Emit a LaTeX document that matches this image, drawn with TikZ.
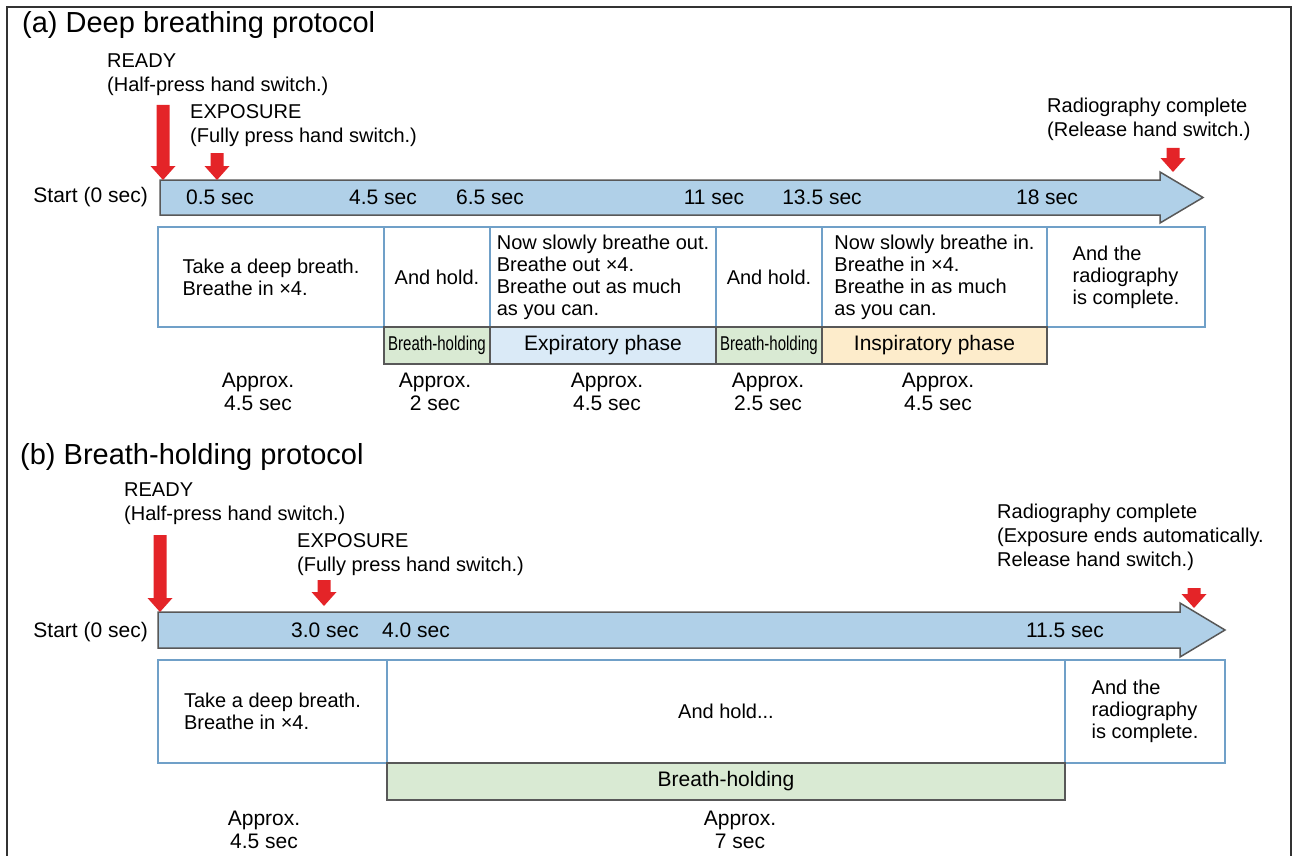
\documentclass[tikz,border=0pt]{standalone}
\usepackage{fontspec}
\setmainfont{Liberation Sans}
\usetikzlibrary{positioning}
\definecolor{barblue}{RGB}{176,208,232}
\definecolor{boxedge}{RGB}{112,160,200}
\definecolor{edgegray}{RGB}{88,88,88}
\definecolor{holdgreen}{RGB}{217,234,211}
\definecolor{expblue}{RGB}{218,234,247}
\definecolor{insyellow}{RGB}{253,236,203}
\definecolor{cuered}{RGB}{228,36,40}
% red cue arrow: x, top y, tip y
\newcommand{\cuearrow}[3]{%
  \fill[cuered] (#1-6.5,#2) -- (#1+6.5,#2) -- (#1+6.5,#3-14) -- (#1+12.5,#3-14)
    -- (#1,#3) -- (#1-12.5,#3-14) -- (#1-6.5,#3-14) -- cycle;}
% time bar: left x, head base x, tip x, top y, bottom y, head overhang
\newcommand{\timebar}[6]{%
  \draw[fill=barblue,draw=edgegray,line width=1.5pt,line join=miter]
    (#1,#4) -- (#2,#4) -- (#2,#4-#6) -- (#3,{(#4+#5)/2}) -- (#2,#5+#6)
    -- (#2,#5) -- (#1,#5) -- cycle;}

\begin{document}
\begin{tikzpicture}[x=1pt,y=-1pt,font=\fontsize{20}{22}\selectfont,
    msg/.style={rectangle,draw=boxedge,line width=1.5pt,fill=white,align=left,inner sep=0pt},
    phase/.style={rectangle,draw=edgegray,line width=1.5pt,inner sep=0pt,minimum height=37},
    cue/.style={anchor=west,align=left,inner sep=0pt,font=\fontsize{20}{24}\selectfont},
    tick/.style={inner sep=0pt,font=\fontsize{21}{24}\selectfont},
    dur/.style={align=center,inner sep=0pt,font=\fontsize{21}{23}\selectfont},
    head/.style={anchor=west,inner sep=0pt,font=\fontsize{29}{32}\selectfont}]
  \useasboundingbox (0,0) rectangle (1298,856);
  \draw[line width=2pt,black!80] (7,860) -- (7,7) -- (1291,7) -- (1291,860);

  % (a) deep breathing
  \node[head] (ta) at (22,25) {(a) Deep breathing protocol};
  \node[cue] (ready-a) at (107,75) {READY\\(Half-press hand switch.)};
  \node[cue] (expo-a) at (190,125.5) {EXPOSURE\\(Fully press hand switch.)};
  \node[cue] (done-a) at (1047,119) {Radiography complete\\(Release hand switch.)};
  \timebar{160}{1160}{1203}{180}{215}{8}
  \cuearrow{163}{105}{180}
  \cuearrow{217}{153}{180}
  \cuearrow{1173}{148}{172}
  \node[tick,anchor=east] (start-a) at (148,197.5) {Start (0 sec)};
  \node[tick] (s05) at (220,197.5) {0.5 sec};
  \node[tick] (s45) at (383,197.5) {4.5 sec};
  \node[tick] (s65) at (490,197.5) {6.5 sec};
  \node[tick] (s11) at (714,197.5) {11 sec};
  \node[tick] (s135) at (822,197.5) {13.5 sec};
  \node[tick] (s18) at (1047,197.5) {18 sec};

  \node[msg,minimum width=226,minimum height=100] (a1) at (271,277) {Take a deep breath.\\Breathe in ×4.};
  \node[msg,minimum width=106,minimum height=100] (a2) at (437,277) {And hold.};
  \node[msg,minimum width=226,minimum height=100] (a3) at (603,277) {Now slowly breathe out.\\Breathe out ×4.\\Breathe out as much\\as you can.};
  \node[msg,minimum width=106,minimum height=100] (a4) at (769,277) {And hold.};
  \node[msg,minimum width=225,minimum height=100] (a5) at (934.5,277) {Now slowly breathe in.\\Breathe in ×4.\\Breathe in as much\\as you can.};
  \node[msg,minimum width=158,minimum height=100] (a6) at (1126,277) {And the\\radiography\\is complete.};

  \node[phase,fill=holdgreen,minimum width=106] (p1) at (437,345.5) {\scalebox{0.75}[1]{Breath-holding}};
  \node[phase,fill=expblue,minimum width=226,font=\fontsize{21}{23}\selectfont] (p2) at (603,345.5) {Expiratory phase};
  \node[phase,fill=holdgreen,minimum width=106] (p3) at (769,345.5) {\scalebox{0.75}[1]{Breath-holding}};
  \node[phase,fill=insyellow,minimum width=225,font=\fontsize{21}{23}\selectfont] (p4) at (934.5,345.5) {Inspiratory phase};

  \node[dur] (d1) at (258,391.5) {Approx.\\4.5 sec};
  \node[dur] (d2) at (435,391.5) {Approx.\\2 sec};
  \node[dur] (d3) at (607,391.5) {Approx.\\4.5 sec};
  \node[dur] (d4) at (768,391.5) {Approx.\\2.5 sec};
  \node[dur] (d5) at (938,391.5) {Approx.\\4.5 sec};

  % (b) breath-holding
  \node[head] (tb) at (20,457) {(b) Breath-holding protocol};
  \node[cue] (ready-b) at (124,503.5) {READY\\(Half-press hand switch.)};
  \node[cue] (expo-b) at (297,555) {EXPOSURE\\(Fully press hand switch.)};
  \node[cue] (done-b) at (997,537) {Radiography complete\\(Exposure ends automatically.\\Release hand switch.)};
  \timebar{158}{1180}{1225}{612}{648}{9}
  \cuearrow{160}{535}{612}
  \cuearrow{324}{580}{606}
  \cuearrow{1194}{588}{608}
  \node[tick,anchor=east] (start-b) at (148,632) {Start (0 sec)};
  \node[tick] (s30) at (325,630) {3.0 sec};
  \node[tick] (s40) at (416,630) {4.0 sec};
  \node[tick] (s115) at (1065,630) {11.5 sec};

  \node[msg,minimum width=229,minimum height=103] (b1) at (272.5,711.5) {Take a deep breath.\\Breathe in ×4.};
  \node[msg,minimum width=678,minimum height=103] (b2) at (726,711.5) {And hold...};
  \node[msg,minimum width=160,minimum height=103] (b3) at (1145,711.5) {And the\\radiography\\is complete.};
  \node[phase,fill=holdgreen,minimum width=678,font=\fontsize{21}{23}\selectfont] (q1) at (726,781.5) {Breath-holding};

  \node[dur] (e1) at (264,830) {Approx.\\4.5 sec};
  \node[dur] (e2) at (740,830) {Approx.\\7 sec};
\end{tikzpicture}
\end{document}
